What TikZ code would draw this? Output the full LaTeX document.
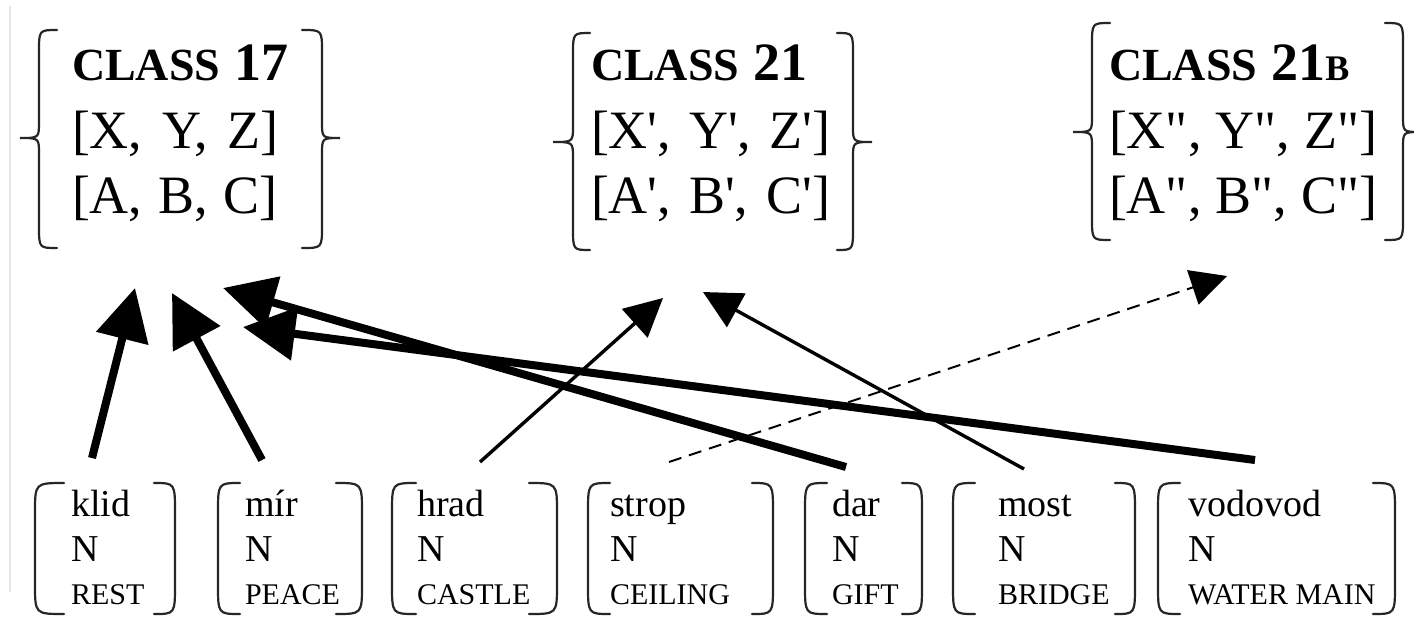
\documentclass[tikz,border=0pt]{standalone}
\usepackage{fontspec}
\setmainfont{Liberation Serif}[Ligatures=TeXOff]
\usetikzlibrary{arrows.meta}
\newcommand{\CurlyBr}[6]{% #1 hook x, #2 vertical x, #3 tip x, #4 top y, #5 mid y, #6 bottom y
  \draw[brk] (#1,#4) .. controls (#2,#4) .. ({#2},{#4+22}) -- ({#2},{#5-16})
    .. controls (#2,#5) .. (#3,#5) .. controls (#2,#5) .. ({#2},{#5+16})
    -- ({#2},{#6-22}) .. controls (#2,#6) .. (#1,#6);}
\newcommand{\RoundBr}[4]{% #1 hook x, #2 outer x, #3 top y, #4 bottom y
  \draw[brk] (#1,#3) .. controls (#2,#3) .. ({#2},{#3+30}) -- ({#2},{#4-30})
    .. controls (#2,#4) .. (#1,#4);}
\newcommand{\clshead}[2]{{\bfseries\fontsize{23}{25}\selectfont CLASS}\hspace{7pt}{\bfseries #1}#2}
\newcommand{\bigtxt}[2][9pt]{\fontsize{27}{30}\selectfont\spaceskip=#1 plus 1pt\relax #2}
\begin{document}
\begin{tikzpicture}[x=0.5pt,y=-0.5pt,
  brk/.style={line width=1.1pt, black!85, line cap=round},
  txt/.style={inner sep=0pt, outer sep=0pt, anchor=base west},
  big/.style={txt, font=\fontsize{27}{30}\selectfont},
  word/.style={txt, font=\fontsize{19}{22}\selectfont},
  gloss/.style={txt, font=\fontsize{15}{17}\selectfont},
  thickarr/.style={line width=4pt, -{Triangle[length=26pt,width=26pt]}},
  thinarr/.style={line width=1.7pt, -{Triangle[length=19pt,width=19pt]}},
  dasharr/.style={line width=1pt, dash pattern=on 6.5pt off 4pt, -{Triangle[length=18pt,width=18pt]}},
]
\useasboundingbox (0,0) rectangle (1414,618);
\fill[white] (0,0) rectangle (1414,618);
\draw[black!10, line width=1pt] (10,6) -- (10,592);

% ---- classes ----
\node[big] (c17a) at (72,80) {\clshead{17}{}};
\node[big] (c17b) at (72,148) {\bigtxt[10pt]{[X, Y, Z]}};
\node[big] (c17c) at (72,213) {\bigtxt[8pt]{[A, B, C]}};
\CurlyBr{57}{39}{20}{30}{138}{248}
\CurlyBr{302}{322}{340}{30}{138}{248}

\node[big] (c21a) at (591,80) {\clshead{21}{}};
\node[big] (c21b) at (591,148) {\bigtxt{[X', Y', Z']}};
\node[big] (c21c) at (591,213) {\bigtxt{[A', B', C']}};
\CurlyBr{590}{573}{553}{33}{142}{250}
\CurlyBr{837}{853}{872}{33}{142}{250}

\node[big] (c21Ba) at (1109,80) {\clshead{21}{{\bfseries\fontsize{18}{20}\selectfont B}}};
\node[big] (c21Bb) at (1109,148) {\bigtxt[7pt]{[X", Y", Z"]}};
\node[big] (c21Bc) at (1109,213) {\bigtxt[7pt]{[A", B", C"]}};
\CurlyBr{1110}{1092}{1073}{23}{132}{240}
\CurlyBr{1385}{1403}{1421}{23}{132}{240}

% ---- words ----
\foreach \wNm/\wWord/\wGloss/\wTx/\wLa/\wLb/\wRa/\wRb in {
  klid/klid/REST/71/64/35/154/175,
  mir/m\'{\i}r/PEACE/245/240/218/336/362,
  hrad/hrad/CASTLE/417/416/392/529/557,
  strop/strop/CEILING/610/610/588/752/773,
  dar/dar/GIFT/832/827/805/902/922,
  most/most/BRIDGE/998/975/953/1115/1135,
  vodovod/vodovod/WATER MAIN/1188/1180/1158/1373/1395}{
  \node[word] (\wNm) at (\wTx,516) {\wWord};
  \node[word] (\wNm N) at (\wTx,561) {N};
  \node[gloss] (\wNm G) at (\wTx,604) {\wGloss};
  \RoundBr{\wLa}{\wLb}{483}{614}
  \RoundBr{\wRa}{\wRb}{483}{614}
}

% ---- arrow end points ----
\coordinate (klid-o) at (92,458);   \coordinate (c17-i1) at (135,288);
\coordinate (mir-o) at (262,460);   \coordinate (c17-i2) at (172,293);
\coordinate (dar-o) at (846,467);   \coordinate (c17-i3) at (223,288);
\coordinate (vod-o) at (1255,460);  \coordinate (c17-i4) at (243,327);
\coordinate (hrad-o) at (480,462);  \coordinate (c21-i1) at (663,298);
\coordinate (most-o) at (1024,469); \coordinate (c21-i2) at (703,292);
\coordinate (strop-o) at (669,462); \coordinate (c21B-i) at (1227,276);

\draw[thickarr] (klid-o) -- (c17-i1);
\draw[thickarr] (mir-o) -- (c17-i2);
\draw[thickarr] (dar-o) -- (c17-i3);
\draw[thickarr] (vod-o) -- (c17-i4);
\draw[thinarr] (hrad-o) -- (c21-i1);
\draw[thinarr] (most-o) -- (c21-i2);
\draw[dasharr] (strop-o) -- (c21B-i);
\end{tikzpicture}
\end{document}
